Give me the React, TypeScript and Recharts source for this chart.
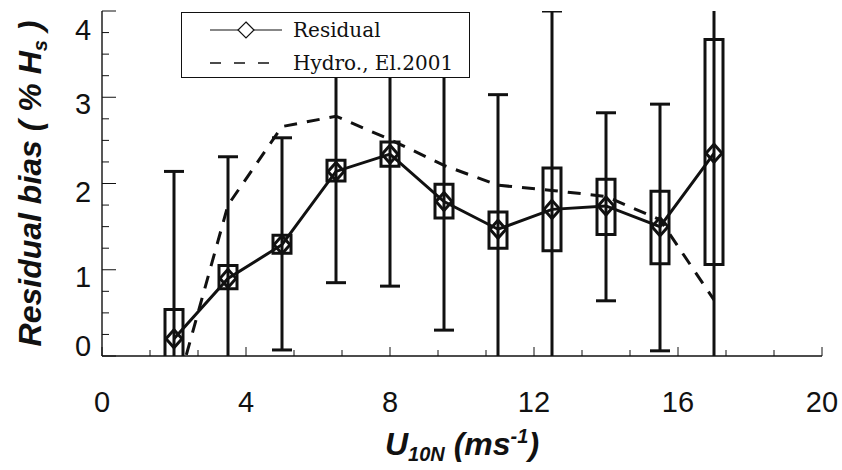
import React from "react";
import { ComposedChart, Bar, Line, XAxis, YAxis, Legend } from "recharts";

// wind speed bins (m/s)
const windSpeed = [2, 3.5, 5, 6.5, 8, 9.5, 11, 12.5, 14, 15.5, 17];
// residual bias, % Hs: mean, box (inner range) and whiskers
const residualMean = [0.2, 0.9, 1.29, 2.14, 2.34, 1.79, 1.47, 1.7, 1.74, 1.5, 2.35];
const boxLow = [-0.14, 0.78, 1.19, 2.03, 2.2, 1.6, 1.25, 1.22, 1.41, 1.07, 1.06];
const boxHigh = [0.54, 1.05, 1.4, 2.27, 2.48, 1.99, 1.67, 2.18, 2.05, 1.91, 3.67];
const whiskerLow = [-1.74, -0.51, 0.07, 0.85, 0.81, 0.3, -0.1, -0.6, 0.64, 0.06, -0.15];
const whiskerHigh = [2.14, 2.31, 2.53, 3.43, 3.87, 3.28, 3.03, 4.0, 2.82, 2.92, 4.85];
// hydrodynamic model, El.2001
const hydroEl2001 = [-0.5, 1.75, 2.66, 2.78, 2.51, 2.21, 1.98, 1.92, 1.85, 1.58, 0.65];

const seriesNames = ["Residual", "Hydro., El.2001"];

const xMajorTicks = [0, 4, 8, 12, 16, 20];
const xMinorTicks = [4 / 3, 8 / 3, 16 / 3, 20 / 3, 28 / 3, 32 / 3, 40 / 3, 44 / 3, 52 / 3, 56 / 3];
const yMajorTicks = [0, 1, 2, 3, 4];
const yMinorTicks = [0.25, 0.5, 0.75, 1.25, 1.5, 1.75, 2.25, 2.5, 2.75, 3.25, 3.5, 3.75];

const rows = windSpeed.map((u, i) => ({
  u,
  residual: residualMean[i],
  box: [boxLow[i], boxHigh[i]],
  whisker: [whiskerLow[i], whiskerHigh[i]],
  hydro: hydroEl2001[i],
}));

const xTicks = [...xMajorTicks, ...xMinorTicks].sort((a, b) => a - b);
const yTicks = [...yMajorTicks, ...yMinorTicks].sort((a, b) => a - b);

const INK = "#111";
const SANS = "Arial, 'Liberation Sans', Helvetica, sans-serif";
const SERIF = "'DejaVu Serif', serif";

const isMajor = (list: number[], v: number) => list.some((t) => Math.abs(t - v) < 1e-6);

// labels in the original sit a little below their ticks, 0 and 4 pushed inside the frame
const yLabelBaseline: Record<number, number> = { 0: 0, 1: 17, 2: 18, 3: 17, 4: 29 };

function BottomTick({ x, y, payload }: any) {
  const major = isMajor(xMajorTicks, payload.value);
  return (
    <g>
      <line x1={x} x2={x} y1={y} y2={y - (major ? 9 : 6)} stroke={INK} strokeWidth={1} />
      {major && (
        <text x={x} y={y + 56} textAnchor="middle" fontSize={29} fontFamily={SANS} fill={INK}>
          {payload.value}
        </text>
      )}
    </g>
  );
}

function TopTick({ x, y, payload }: any) {
  const major = isMajor(xMajorTicks, payload.value);
  return <line x1={x} x2={x} y1={y} y2={y + (major ? 9 : 6)} stroke={INK} strokeWidth={1} />;
}

function LeftTick({ x, y, payload }: any) {
  const major = isMajor(yMajorTicks, payload.value);
  return (
    <g>
      <line x1={x} x2={x + (major ? 14 : 7)} y1={y} y2={y} stroke={INK} strokeWidth={1} />
      {major && (
        <text
          x={x - 19}
          y={y + (yLabelBaseline[payload.value] ?? 17)}
          textAnchor="middle"
          fontSize={29}
          fontFamily={SANS}
          fill={INK}
        >
          {payload.value}
        </text>
      )}
    </g>
  );
}

function RightTick({ x, y, payload }: any) {
  const major = isMajor(yMajorTicks, payload.value);
  return <line x1={x} x2={x - (major ? 14 : 7)} y1={y} y2={y} stroke={INK} strokeWidth={1} />;
}

// vertical whisker with caps, spanning the bar's own range
function WhiskerShape({ x, y, width, height }: any) {
  if (x == null || y == null) return null;
  const cx = x + width / 2;
  const top = Math.min(y, y + height);
  const bot = Math.max(y, y + height);
  return (
    <g stroke={INK} strokeWidth={3}>
      <line x1={cx} x2={cx} y1={top} y2={bot} />
      <line x1={x} x2={x + width} y1={top} y2={top} />
      <line x1={x} x2={x + width} y1={bot} y2={bot} />
    </g>
  );
}

function DiamondDot({ cx, cy }: any) {
  if (cx == null || cy == null) return null;
  const w = 8;
  const h = 9;
  return (
    <polygon
      points={`${cx},${cy - h} ${cx + w},${cy} ${cx},${cy + h} ${cx - w},${cy}`}
      fill="none"
      stroke={INK}
      strokeWidth={3}
    />
  );
}

function XTitle({ viewBox }: any) {
  const cx = viewBox.x + viewBox.width / 2;
  return (
    <text x={cx} y={455} textAnchor="middle" fontFamily={SANS} fontWeight="bold" fontStyle="italic" fontSize={32} fill={INK}>
      U
      <tspan fontSize={20} dy={6}>10N</tspan>
      <tspan dy={-6}> (ms</tspan>
      <tspan fontSize={20} dy={-12}>-1</tspan>
      <tspan dy={12}>)</tspan>
    </text>
  );
}

function YTitle({ viewBox }: any) {
  const cy = viewBox.y + viewBox.height / 2;
  const bx = 41;
  return (
    <text
      x={bx}
      y={cy}
      transform={`rotate(-90, ${bx}, ${cy})`}
      textAnchor="middle"
      fontFamily={SANS}
      fontWeight="bold"
      fontStyle="italic"
      fontSize={32}
      fill={INK}
    >
      Residual bias ( % H
      <tspan fontSize={20} dy={6}>s</tspan>
      <tspan dy={-6}> )</tspan>
    </text>
  );
}

function LegendBox({ payload }: any) {
  const items = (payload || [])
    .filter((p: any) => seriesNames.includes(p.value))
    .sort((a: any, b: any) => seriesNames.indexOf(a.value) - seriesNames.indexOf(b.value));
  return (
    <svg width={287} height={64} style={{ display: "block" }}>
      {items.map((item: any, i: number) => {
        const cy = 17 + i * 33;
        const dashed = item.value !== "Residual";
        return (
          <g key={item.value}>
            <line
              x1={28}
              x2={100}
              y1={cy}
              y2={cy}
              stroke={INK}
              strokeWidth={dashed ? 1.6 : 1.1}
              strokeDasharray={dashed ? "11 13" : undefined}
            />
            {!dashed && (
              <polygon
                points={`64,${cy - 8} 72,${cy} 64,${cy + 8} 56,${cy}`}
                fill="#fff"
                stroke={INK}
                strokeWidth={1.2}
              />
            )}
            <text x={111} y={cy + 7} fontFamily={SERIF} fontSize={20} fill={INK}>
              {item.value}
            </text>
          </g>
        );
      })}
    </svg>
  );
}

export default function App() {
  return (
    <div style={{ position: "absolute", left: 0, top: 0, width: 842, height: 470, background: "#fff" }}>
      <ComposedChart width={842} height={470} data={rows} margin={{ top: 11, right: 20, bottom: 0, left: 0 }}>
        <XAxis
          xAxisId="b"
          dataKey="u"
          type="number"
          domain={[0, 20]}
          ticks={xTicks}
          interval={0}
          height={114}
          tickSize={0}
          tickMargin={0}
          tickLine={false}
          tick={<BottomTick />}
          axisLine={{ stroke: INK, strokeWidth: 1.4 }}
          label={{ content: XTitle }}
        />
        <XAxis
          xAxisId="t"
          dataKey="u"
          type="number"
          orientation="top"
          domain={[0, 20]}
          ticks={xTicks}
          interval={0}
          height={0}
          tickSize={0}
          tickMargin={0}
          tickLine={false}
          tick={<TopTick />}
          axisLine={{ stroke: INK, strokeWidth: 1.4 }}
        />
        <YAxis
          yAxisId="l"
          type="number"
          domain={[0, 4]}
          allowDataOverflow
          ticks={yTicks}
          interval={0}
          width={102}
          tickSize={0}
          tickMargin={0}
          tickLine={false}
          tick={<LeftTick />}
          axisLine={{ stroke: INK, strokeWidth: 1.4 }}
          label={{ content: YTitle }}
        />
        <YAxis
          yAxisId="r"
          type="number"
          orientation="right"
          domain={[0, 4]}
          allowDataOverflow
          ticks={yTicks}
          interval={0}
          width={0}
          tickSize={0}
          tickMargin={0}
          tickLine={false}
          tick={<RightTick />}
          axisLine={{ stroke: INK, strokeWidth: 1.4 }}
        />

        {/* whiskers sit on the top x axis so they are not grouped beside the boxes */}
        <Bar
          xAxisId="t"
          yAxisId="l"
          dataKey="whisker"
          barSize={20}
          shape={<WhiskerShape />}
          legendType="none"
          isAnimationActive={false}
        />
        <Bar
          xAxisId="b"
          yAxisId="l"
          dataKey="box"
          barSize={18}
          fill="none"
          stroke={INK}
          strokeWidth={3}
          legendType="none"
          isAnimationActive={false}
        />
        <Line
          xAxisId="b"
          yAxisId="l"
          name="Residual"
          dataKey="residual"
          type="linear"
          stroke={INK}
          strokeWidth={3}
          dot={<DiamondDot />}
          activeDot={false}
          isAnimationActive={false}
        />
        <Line
          xAxisId="b"
          yAxisId="l"
          name="Hydro., El.2001"
          dataKey="hydro"
          type="linear"
          stroke={INK}
          strokeWidth={3}
          strokeDasharray="13 10"
          dot={false}
          activeDot={false}
          isAnimationActive={false}
        />

        <Legend
          layout="vertical"
          align="center"
          verticalAlign="middle"
          content={<LegendBox />}
          wrapperStyle={{
            left: 181,
            top: 12,
            width: 289,
            height: 66,
            border: `1px solid ${INK}`,
            background: "#fff",
            boxSizing: "border-box",
            lineHeight: 0,
          }}
        />
      </ComposedChart>
    </div>
  );
}
